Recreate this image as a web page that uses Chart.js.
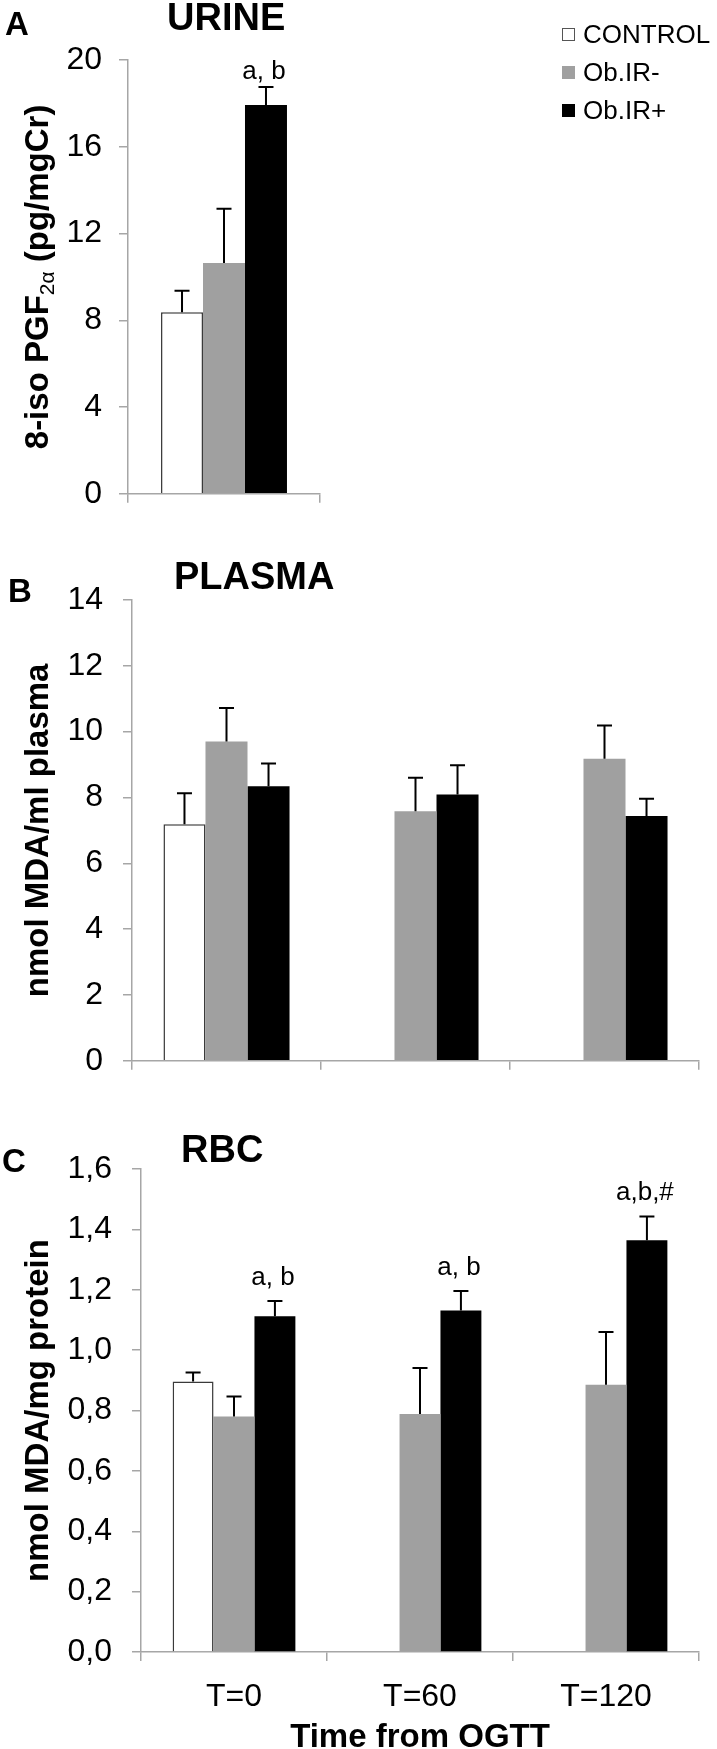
<!DOCTYPE html>
<html>
<head>
<meta charset="utf-8">
<script src="https://cdn.jsdelivr.net/npm/chart.js@4.4.1/dist/chart.umd.min.js"></script>
<style>
  body { margin: 0; width: 717px; height: 1749px; overflow: hidden; background: #fff; position: relative;
         font-family: 'Liberation Sans', Arial, sans-serif; color: #000; }
  canvas { position: absolute; left: 0; }
  .txt { position: absolute; font-weight: bold; line-height: 1; white-space: nowrap; z-index: 2; }
  .letra { font-size: 33px; }
  .titulo { font-size: 38px; }
  #legenda { position: absolute; left: 562px; top: 0; z-index: 2; }
  .item { position: absolute; left: 0; white-space: nowrap; font-size: 26px; line-height: 1; }
  .caixa { position: absolute; left: 0; width: 11px; height: 11px; }
  .item span.t { position: absolute; left: 21px; }
</style>
</head>
<body>
<div class="txt letra" style="left:5px; top:7px;">A</div>
<div class="txt titulo" style="left:167px; top:-2px;">URINE</div>
<div class="txt letra" style="left:8px; top:574px;">B</div>
<div class="txt titulo" style="left:174px; top:557px;">PLASMA</div>
<div class="txt letra" style="left:2px; top:1144px;">C</div>
<div class="txt titulo" style="left:181px; top:1130px;">RBC</div>
<div id="legenda"></div>

<canvas id="graficoA" width="717" height="530" style="top:0px"></canvas>
<canvas id="graficoB" width="717" height="570" style="top:530px"></canvas>
<canvas id="graficoC" width="717" height="660" style="top:1100px"></canvas>

<script>
// grupos e cores
const grupos = ['CONTROL', 'Ob.IR-', 'Ob.IR+'];
const cores = ['#ffffff', '#a0a0a0', '#000000'];

// A - urina (um so grupo de barras)
const urinaCat = ['URINE'];
const urinaMedia = [8.37, 10.64, 17.92];
const urinaErro = [0.99, 2.5, 0.83];
const urinaSig = ['', '', 'a, b'];
const urinaTicks = ['0', '4', '8', '12', '16', '20'];
const urinaEixo = ['8-iso PGF', '2α', ' (pg/mgCr)'];

// B e C - tempos da OGTT
const tempos = ['T=0', 'T=60', 'T=120'];

const plasmaControl = [7.19, null, null];
const plasmaControlErr = [0.94, null, null];
const plasmaNeg = [9.70, 7.58, 9.18];
const plasmaNegErr = [1.02, 1.02, 1.01];
const plasmaPos = [8.34, 8.09, 7.44];
const plasmaPosErr = [0.69, 0.89, 0.52];
const plasmaTicks = ['0', '2', '4', '6', '8', '10', '12', '14'];

const rbcControl = [0.896, null, null];
const rbcControlErr = [0.030, null, null];
const rbcNeg = [0.780, 0.788, 0.885];
const rbcNegErr = [0.066, 0.153, 0.175];
const rbcPos = [1.112, 1.131, 1.364];
const rbcPosErr = [0.051, 0.065, 0.079];
const rbcPosSig = ['a, b', 'a, b', 'a,b,#'];
const rbcTicks = ['0,0', '0,2', '0,4', '0,6', '0,8', '1,0', '1,2', '1,4', '1,6'];

const fonte = "'Liberation Sans', Arial, sans-serif";
const cinzaEixo = '#a6a6a6';
Chart.defaults.font.family = fonte;
Chart.defaults.color = '#000';

// barras de erro + letras de significancia
const barrasErro = {
  id: 'barrasErro',
  afterDatasetsDraw(chart, args, opts) {
    const ctx = chart.ctx;
    const y = chart.scales.y;
    chart.data.datasets.forEach((ds, i) => {
      const meta = chart.getDatasetMeta(i);
      meta.data.forEach((bar, j) => {
        const v = ds.data[j];
        if (v == null) return;
        const e = ds.erro ? (ds.erro[j] || 0) : 0;
        const topo = y.getPixelForValue(v + e);
        ctx.save();
        ctx.strokeStyle = '#000';
        ctx.lineWidth = 2;
        ctx.beginPath();
        ctx.moveTo(bar.x, bar.y);
        ctx.lineTo(bar.x, topo);
        ctx.moveTo(bar.x - opts.cap, topo);
        ctx.lineTo(bar.x + opts.cap, topo);
        ctx.stroke();
        const s = ds.sig ? ds.sig[j] : '';
        if (s) {
          ctx.fillStyle = '#000';
          ctx.font = '26px ' + fonte;
          ctx.textAlign = 'center';
          ctx.textBaseline = 'alphabetic';
          ctx.fillText(s, bar.x - 2, topo - opts.gap);
        }
        ctx.restore();
      });
    });
  }
};

// titulo do eixo y do painel A (com subscrito)
const tituloA = {
  id: 'tituloA',
  afterDraw(chart) {
    const ctx = chart.ctx;
    const a = chart.chartArea;
    const fontes = ['bold 33px ' + fonte, '21px ' + fonte, 'bold 33px ' + fonte];
    const desloc = [0, 9, 0];
    ctx.save();
    let total = 0;
    const larg = urinaEixo.map((t, k) => { ctx.font = fontes[k]; const w = ctx.measureText(t).width; total += w; return w; });
    ctx.translate(39, (a.top + a.bottom) / 2);
    ctx.rotate(-Math.PI / 2);
    ctx.fillStyle = '#000';
    ctx.textBaseline = 'middle';
    ctx.textAlign = 'left';
    let x = -total / 2;
    urinaEixo.forEach((t, k) => {
      ctx.font = fontes[k];
      ctx.fillText(t, x, desloc[k]);
      x += larg[k];
    });
    ctx.restore();
  }
};

function eixoY(max, passo, rotulos, larguraEixo, pad, titulo) {
  return {
    min: 0, max: max,
    ticks: { stepSize: passo, padding: pad, font: { size: 32 }, color: '#000',
             callback: (v, i) => rotulos[i] },
    grid: { drawOnChartArea: false, drawTicks: true, tickLength: 9, color: cinzaEixo, lineWidth: 1.5 },
    border: { color: cinzaEixo, width: 1.5 },
    title: titulo ? { display: true, text: titulo, font: { size: 33, weight: 'bold' }, color: '#000',
                      padding: { top: 19, bottom: 0 } } : { display: false },
    afterFit: s => { s.width = larguraEixo; }
  };
}

function eixoX(altura, mostrarRotulos, titulo) {
  return {
    offset: true,
    ticks: { display: mostrarRotulos, padding: 17, font: { size: 32 }, color: '#000', maxRotation: 0, autoSkip: false },
    grid: { offset: true, drawOnChartArea: false, drawTicks: true, tickLength: 9, color: cinzaEixo, lineWidth: 1.5 },
    border: { color: cinzaEixo, width: 1.5 },
    title: titulo ? { display: true, text: titulo, font: { size: 33, weight: 'bold' }, color: '#000',
                      padding: { top: 0, bottom: 2 } } : { display: false },
    afterFit: s => { s.height = altura; }
  };
}

function conjunto(k, dados, erros, sig, catPct) {
  return {
    label: grupos[k],
    data: dados,
    erro: erros,
    sig: sig,
    backgroundColor: cores[k],
    borderColor: k === 0 ? '#3a3a3a' : cores[k],
    borderWidth: k === 0 ? 1.5 : 0,
    borderSkipped: 'bottom',
    barPercentage: 1,
    categoryPercentage: catPct
  };
}

function opcoes(padding, eixoYcfg, eixoXcfg, gap) {
  return {
    responsive: false,
    animation: false,
    layout: { padding: padding },
    plugins: {
      legend: { display: false },
      tooltip: { enabled: false },
      barrasErro: { cap: 7.5, gap: gap }
    },
    scales: { x: eixoXcfg, y: eixoYcfg }
  };
}

// Painel A
const chartA = new Chart(document.getElementById('graficoA'), {
  type: 'bar',
  data: {
    labels: urinaCat,
    datasets: [
      conjunto(0, urinaMedia.slice(0, 1), urinaErro.slice(0, 1), urinaSig.slice(0, 1), 0.656),
      conjunto(1, urinaMedia.slice(1, 2), urinaErro.slice(1, 2), urinaSig.slice(1, 2), 0.656),
      conjunto(2, urinaMedia.slice(2, 3), urinaErro.slice(2, 3), urinaSig.slice(2, 3), 0.656)
    ]
  },
  options: opcoes({ left: 0, top: 60, right: 397, bottom: 0 },
                  eixoY(20, 4, urinaTicks, 128, 17, null),
                  eixoX(12, false, null), 8),
  plugins: [barrasErro, tituloA]
});

// Painel B
new Chart(document.getElementById('graficoB'), {
  type: 'bar',
  data: {
    labels: tempos,
    datasets: [
      conjunto(0, plasmaControl, plasmaControlErr, null, 0.667),
      conjunto(1, plasmaNeg, plasmaNegErr, null, 0.667),
      conjunto(2, plasmaPos, plasmaPosErr, null, 0.667)
    ]
  },
  options: opcoes({ left: 0, top: 70, right: 18, bottom: 0 },
                  eixoY(14, 2, plasmaTicks, 132, 20, 'nmol MDA/ml plasma'),
                  eixoX(20, false, null), 8),
  plugins: [barrasErro]
});

// Painel C
new Chart(document.getElementById('graficoC'), {
  type: 'bar',
  data: {
    labels: tempos,
    datasets: [
      conjunto(0, rbcControl, rbcControlErr, null, 0.66),
      conjunto(1, rbcNeg, rbcNegErr, null, 0.66),
      conjunto(2, rbcPos, rbcPosErr, rbcPosSig, 0.66)
    ]
  },
  options: opcoes({ left: 0, top: 69, right: 18, bottom: 0 },
                  eixoY(1.6, 0.2, rbcTicks, 141, 20, 'nmol MDA/mg protein'),
                  eixoX(108, true, 'Time from OGTT'), 16),
  plugins: [barrasErro]
});

// legenda em html a partir dos itens do Chart.js
const legenda = document.getElementById('legenda');
const linhas = [34, 72, 110];
chartA.options.plugins.legend.labels.generateLabels(chartA).forEach((item, k) => {
  const div = document.createElement('div');
  div.className = 'item';
  div.style.top = (linhas[k] - 13) + 'px';
  const caixa = document.createElement('span');
  caixa.className = 'caixa';
  caixa.style.top = '7px';
  caixa.style.background = item.fillStyle;
  caixa.style.border = '1px solid ' + (k === 0 ? '#555' : item.fillStyle);
  const t = document.createElement('span');
  t.className = 't';
  t.textContent = item.text;
  div.appendChild(caixa);
  div.appendChild(t);
  legenda.appendChild(div);
});
</script>
</body>
</html>
